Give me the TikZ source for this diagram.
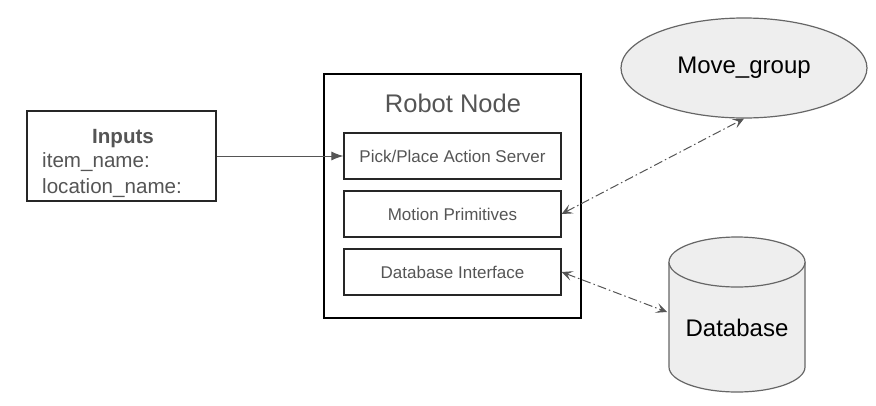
\documentclass[tikz,border=0pt]{standalone}
\usepackage{fontspec}
\setmainfont{Liberation Sans}
\usetikzlibrary{shapes.geometric}
\usetikzlibrary{arrows.meta}
\definecolor{txtgray}{HTML}{555555}
\definecolor{shapegray}{HTML}{EEEEEE}
\definecolor{edgegray}{HTML}{666666}
\tikzset{inbox/.style={draw=black!85, line width=1.2pt, minimum width=217pt, minimum height=46pt, inner sep=0pt, text=txtgray, font=\fontsize{17}{20}\selectfont}, link/.style={draw=txtgray, line width=1pt, dash pattern=on 9pt off 3pt on 1.5pt off 3pt, {Stealth[length=11pt, width=10pt, inset=5pt]}-{Stealth[length=11pt, width=10pt, inset=5pt]}}, lbl/.style={text=txtgray, font=\fontsize{20.6}{24}\selectfont, inner sep=0pt}}

\begin{document}
\begin{tikzpicture}[x=1pt, y=-1pt]
\useasboundingbox (0,0) rectangle (876,405);
\node[draw=black!85, line width=1.2pt, minimum width=189pt, minimum height=90pt] (inputs) at (121.5,156) {};
\node[lbl, anchor=base] (intitle) at (123,143) {\textbf{Inputs}};
\node[lbl, anchor=base west] (item) at (42,167) {item\_name:};
\node[lbl, anchor=base west] (loc) at (42,193) {location\_name:};
\node[draw=black, line width=1.2pt, minimum width=257pt, minimum height=244pt] (robot) at (452.5,196) {};
\node[text=txtgray, font=\fontsize{25.5}{30}\selectfont, anchor=base, inner sep=0pt] (rtitle) at (453,112) {Robot Node};
\node[inbox] (pick) at (452.5,156) {Pick/Place Action Server};
\node[inbox] (motion) at (452.5,214) {Motion Primitives};
\node[inbox] (dbif) at (452.5,272) {Database Interface};
\node[ellipse, draw=edgegray, fill=shapegray, line width=1.2pt, minimum width=246pt, minimum height=100pt, inner sep=0pt, font=\fontsize{24}{28}\selectfont] (moveg) at (744,68) {Move\_group};
\filldraw[draw=edgegray, fill=shapegray, line width=1.2pt] (669,262) -- (669,367) arc[start angle=180, end angle=0, x radius=68, y radius=25] -- (805,262);
\filldraw[draw=edgegray, fill=shapegray, line width=1.2pt] (737,262) ellipse[x radius=68, y radius=25];
\node[font=\fontsize{24}{28}\selectfont, inner sep=0pt] (db) at (737,328) {Database};
\coordinate (dbport) at (667,312);
\draw[draw=txtgray, line width=1pt, -{Latex[length=12pt, width=9pt]}] (inputs.east) -- (pick.west);
\draw[link] (motion.east) -- (moveg.south);
\draw[link] (dbif.east) -- (dbport);
\end{tikzpicture}
\end{document}
